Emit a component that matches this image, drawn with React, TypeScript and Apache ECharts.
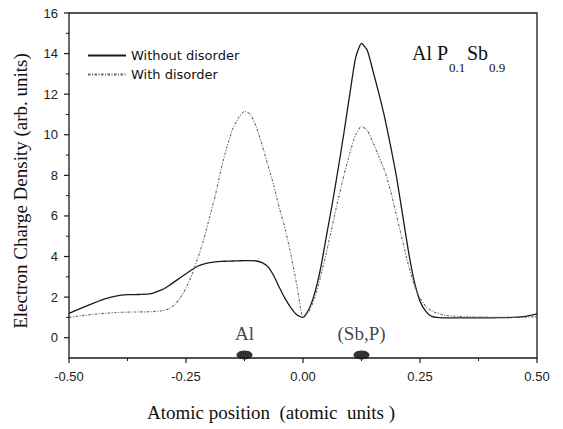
import React, { useEffect, useRef } from "react";
import * as echarts from "echarts";

// Atomic positions (atomic units) at which both densities were read
const positions = [
  -0.5, -0.475, -0.45, -0.425, -0.4, -0.375, -0.35, -0.325, -0.3,
  -0.2875, -0.275, -0.2625, -0.25, -0.2375, -0.225, -0.2125, -0.2, -0.1875,
  -0.175, -0.1625, -0.15, -0.1375, -0.125, -0.1125, -0.1, -0.0875, -0.075,
  -0.0625, -0.05, -0.0375, -0.025, -0.0125, 0, 0.0125, 0.025, 0.0375, 0.05,
  0.0625, 0.075, 0.0875, 0.1, 0.1125, 0.125, 0.1375, 0.15, 0.1625, 0.175,
  0.1875, 0.2, 0.2125, 0.225, 0.2375, 0.25, 0.2625, 0.275,
  0.3, 0.325, 0.35, 0.375, 0.4, 0.425, 0.45, 0.475, 0.5,
];

// Electron charge density, without disorder (solid)
const withoutDisorder = [
  1.2, 1.45, 1.68, 1.9, 2.05, 2.12, 2.13, 2.17, 2.38,
  2.55, 2.75, 2.95, 3.15, 3.35, 3.52, 3.63, 3.7, 3.74,
  3.76, 3.77, 3.78, 3.79, 3.8, 3.8, 3.78, 3.7, 3.5,
  3.05, 2.45, 1.9, 1.45, 1.12, 1.0, 1.4, 2.2, 3.4, 5.0,
  6.6, 8.3, 10.1, 12.0, 13.8, 14.5, 14.15, 13.1, 12.0, 10.8,
  9.4, 7.9, 6.1, 4.3, 2.8, 1.8, 1.3, 1.05,
  0.98, 0.98, 0.98, 0.98, 0.98, 0.99, 1.0, 1.05, 1.18,
];

// Electron charge density, with disorder (dotted)
const withDisorder = [
  1.0, 1.08, 1.15, 1.2, 1.24, 1.26, 1.27, 1.28, 1.33,
  1.42, 1.62, 1.95, 2.45, 3.1, 3.9, 4.8, 5.9, 7.0,
  8.3, 9.4, 10.3, 10.85, 11.15, 11.0, 10.4, 9.5, 8.5,
  7.5, 6.35, 5.3, 4.0, 2.5, 1.05, 1.3, 1.95, 3.0, 4.2,
  5.5, 6.8, 8.0, 9.1, 10.0, 10.42, 10.2, 9.6, 8.9, 8.2,
  7.2, 6.0, 4.8, 3.6, 2.6, 1.95, 1.55, 1.32,
  1.12, 1.06, 1.03, 1.02, 1.01, 1.0, 1.0, 1.01, 1.03,
];

const seriesNames = ["Without disorder", "With disorder"];

// Axis ranges and tick values
const xRange = [-0.5, 0.5];
const yRange = [-1, 16];
const xMajorTicks = [-0.5, -0.25, 0, 0.25, 0.5];
const xMinorTicks = [-0.375, -0.125, 0.125, 0.375];
const yMajorTicks = [0, 2, 4, 6, 8, 10, 12, 14, 16];
const yMinorTicks = [1, 3, 5, 7, 9, 11, 13, 15];

// Atom sites marked under the curves
const atomNames = ["Al", "(Sb,P)"];
const atomPositions = [-0.125, 0.125];
const atomMarkerLevel = -0.85;

const SERIF = "Liberation Serif";
const SANS = "Liberation Sans";
const LEGEND_FONT = "DejaVu Sans";

export default function App() {
  const ref = useRef<HTMLDivElement>(null);

  useEffect(() => {
    if (!ref.current) return;
    const chart = echarts.init(ref.current, null, { renderer: "svg" });

    const axisColor = "#1a1a1a";

    const option: any = {
      animation: false,
      grid: {
        left: 69,
        right: 26,
        top: 13,
        bottom: 71,
        outerBoundsMode: "none",
      },
      legend: {
        data: seriesNames,
        orient: "vertical",
        left: 82,
        top: 44,
        itemWidth: 38,
        itemHeight: 16,
        itemGap: 6,
        itemStyle: { opacity: 0 },
        textStyle: { fontFamily: LEGEND_FONT, fontSize: 13, color: "#111" },
        selectedMode: false,
      },
      xAxis: {
        type: "value",
        min: xRange[0],
        max: xRange[1],
        interval: 0.25,
        axisLine: { show: false },
        axisTick: { show: false },
        splitLine: { show: false },
        axisLabel: {
          formatter: (v: number) => v.toFixed(2),
          fontFamily: SANS,
          fontSize: 13,
          color: "#222",
          margin: 12,
        },
      },
      yAxis: {
        type: "value",
        min: yRange[0],
        max: yRange[1],
        splitNumber: 8,
        minInterval: 2,
        maxInterval: 2,
        axisLine: { show: false },
        axisTick: { show: false },
        splitLine: { show: false },
        axisLabel: {
          showMinLabel: false,
          fontFamily: SANS,
          fontSize: 13,
          color: "#222",
          margin: 11,
        },
      },
      series: [
        {
          type: "custom",
          silent: true,
          clip: false,
          z: 10,
          data: [[xRange[0], yRange[0]]],
          renderItem: (_params: any, api: any) => {
            const tl = api.coord([xRange[0], yRange[1]]);
            const br = api.coord([xRange[1], yRange[0]]);
            const major = { stroke: axisColor, lineWidth: 1.2 };
            const minorS = { stroke: axisColor, lineWidth: 1 };
            const children: any[] = [
              {
                type: "rect",
                shape: { x: tl[0], y: tl[1], width: br[0] - tl[0], height: br[1] - tl[1] },
                style: { fill: "none", stroke: axisColor, lineWidth: 1.3 },
              },
            ];
            xMajorTicks.forEach((v) => {
              const p = api.coord([v, yRange[0]]);
              children.push({ type: "line", shape: { x1: p[0], y1: p[1], x2: p[0], y2: p[1] + 5 }, style: major });
            });
            xMinorTicks.forEach((v) => {
              const p = api.coord([v, yRange[0]]);
              children.push({ type: "line", shape: { x1: p[0], y1: p[1], x2: p[0], y2: p[1] + 3 }, style: minorS });
            });
            yMajorTicks.forEach((v) => {
              const p = api.coord([xRange[0], v]);
              children.push({ type: "line", shape: { x1: p[0] - 5, y1: p[1], x2: p[0], y2: p[1] }, style: major });
            });
            yMinorTicks.forEach((v) => {
              const p = api.coord([xRange[0], v]);
              children.push({ type: "line", shape: { x1: p[0] - 3, y1: p[1], x2: p[0], y2: p[1] }, style: minorS });
            });
            return { type: "group", children };
          },
        },
        {
          name: seriesNames[0],
          type: "line",
          data: positions.map((x, i) => [x, withoutDisorder[i]]),
          symbol: "none",
          smooth: 0.2,
          lineStyle: { color: "#1a1a1a", width: 1.3 },
          itemStyle: { color: "#1a1a1a" },
        },
        {
          name: seriesNames[1],
          type: "line",
          data: positions.map((x, i) => [x, withDisorder[i]]),
          symbol: "none",
          smooth: 0.2,
          lineStyle: { color: "#666", width: 1.1, type: [2.5, 1.5, 1, 1.5] },
          itemStyle: { color: "#666" },
        },
        {
          type: "scatter",
          data: atomNames.map((n, i) => ({ name: n, value: [atomPositions[i], atomMarkerLevel] })),
          symbol: "circle",
          symbolSize: [16, 9],
          itemStyle: { color: "#000" },
          silent: true,
          label: {
            show: true,
            position: "top",
            distance: 7,
            formatter: "{b}",
            fontFamily: SERIF,
            fontSize: 19,
            color: "#111",
          },
        },
      ],
      graphic: [
        {
          type: "text",
          x: 271,
          y: 412,
          style: {
            text: "Atomic position  (atomic  units )",
            fontFamily: SERIF,
            fontSize: 19,
            fill: "#111",
            align: "center",
            verticalAlign: "middle",
          },
        },
        {
          type: "text",
          x: 20,
          y: 191,
          rotation: Math.PI / 2,
          style: {
            text: "Electron Charge Density (arb. units)",
            fontFamily: SERIF,
            fontSize: 19,
            fill: "#111",
            align: "center",
            verticalAlign: "middle",
          },
        },
        { type: "text", x: 412, y: 53, style: { text: "Al P", fontFamily: SERIF, fontSize: 20, fill: "#111", verticalAlign: "middle" } },
        { type: "text", x: 449, y: 67, style: { text: "0.1", fontFamily: SERIF, fontSize: 13, fill: "#111", verticalAlign: "middle" } },
        { type: "text", x: 467, y: 53, style: { text: "Sb", fontFamily: SERIF, fontSize: 20, fill: "#111", verticalAlign: "middle" } },
        { type: "text", x: 489, y: 67, style: { text: "0.9", fontFamily: SERIF, fontSize: 13, fill: "#111", verticalAlign: "middle" } },
      ],
    };

    chart.setOption(option);
    return () => chart.dispose();
  }, []);

  return (
    <div
      ref={ref}
      style={{ position: "fixed", left: 0, top: 0, width: 563, height: 429, background: "#fff" }}
    />
  );
}
